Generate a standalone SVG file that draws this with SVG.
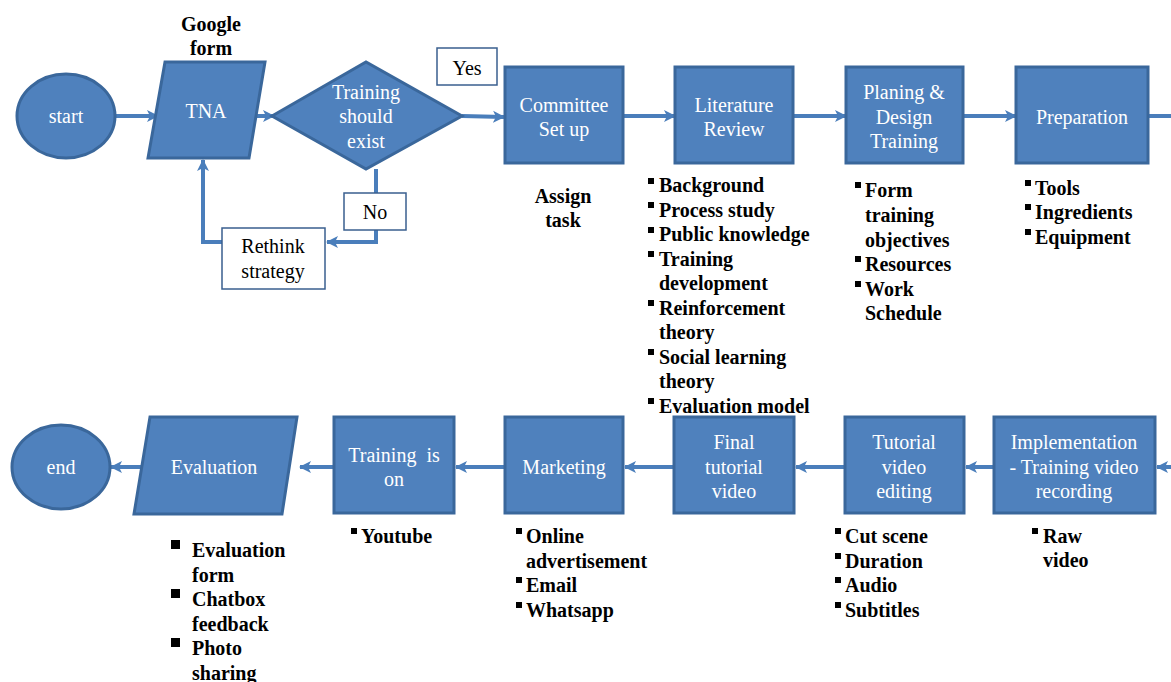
<svg xmlns="http://www.w3.org/2000/svg" width="1171" height="682" viewBox="0 0 1171 682">
<defs>
<marker id="ah" markerUnits="userSpaceOnUse" markerWidth="14" markerHeight="14" refX="11" refY="7" orient="auto">
<path d="M0,1 L12,7 L0,13 L3,7 z" fill="#4a7ebb"/>
</marker>
<style>
.n{fill:#4f81bd;stroke:#3a679b;stroke-width:3}
.lb{fill:#fff;stroke:#3a5f8f;stroke-width:1.5}
.c{fill:none;stroke:#4a7ebb;stroke-width:4}
.a{marker-end:url(#ah)}
.w{font-family:"Liberation Serif","Times New Roman",serif;font-size:20px;fill:#fff;text-anchor:middle}
.k{font-family:"Liberation Serif","Times New Roman",serif;font-size:20px;fill:#000;text-anchor:middle}
.b{font-family:"Liberation Serif","Times New Roman",serif;font-size:20px;font-weight:bold;fill:#000}
.sq{fill:#000}
</style>
</defs>
<rect width="1171" height="682" fill="#fff"/>
<g id="connectors">
<path class="c a" d="M115,116 H158"/>
<path class="c a" d="M255,116 H274"/>
<path class="c a" d="M462,116 L504,117"/>
<path class="c" d="M376,169 V193"/>
<path class="c a" d="M376,229 V242 H327"/>
<path class="c a" d="M230,242 H203 V160"/>
<path class="c a" d="M623,116 H675"/>
<path class="c a" d="M793,116 H846"/>
<path class="c a" d="M963,116 H1016"/>
<path class="c" d="M1148,116 H1171"/>
<path class="c a" d="M1171,467 H1157"/>
<path class="c a" d="M994,467 H966"/>
<path class="c a" d="M845,467 H796"/>
<path class="c a" d="M674,467 H625"/>
<path class="c a" d="M505,467 H456"/>
<path class="c a" d="M350,467 H300"/>
<path class="c a" d="M152,467 H111"/>
</g>
<g id="start"><ellipse class="n" cx="66" cy="116" rx="49" ry="42"/><text class="w" x="66" y="123">start</text></g>
<g id="google-form"><text class="b" x="211" y="31" text-anchor="middle">Google</text><text class="b" x="211" y="55" text-anchor="middle">form</text></g>
<g id="tna"><polygon class="n" points="165,62 265,62 249,158 148,158"/><text class="w" x="206" y="118">TNA</text></g>
<g id="decision"><polygon class="n" points="272,116 366,62 462,116 366,169"/><text class="w" x="366" y="99">Training</text><text class="w" x="366" y="123">should</text><text class="w" x="366" y="148">exist</text></g>
<g id="yes"><rect class="lb" x="437" y="48" width="60" height="37"/><text class="k" x="467" y="75">Yes</text></g>
<g id="no"><rect class="lb" x="344" y="193" width="62" height="37"/><text class="k" x="375" y="219">No</text></g>
<g id="rethink"><rect class="lb" x="222" y="228" width="103" height="61"/><text class="k" x="273" y="253">Rethink</text><text class="k" x="273" y="278">strategy</text></g>
<g id="committee"><rect class="n" x="505" y="67" width="118" height="96"/><text class="w" x="564" y="112">Committee</text><text class="w" x="564" y="136">Set up</text></g>
<g id="assign"><text class="b" x="563" y="203" text-anchor="middle">Assign</text><text class="b" x="563" y="227" text-anchor="middle">task</text></g>
<g id="literature"><rect class="n" x="675" y="67" width="118" height="96"/><text class="w" x="734" y="112">Literature</text><text class="w" x="734" y="136">Review</text></g>
<g id="literature-list">
<rect class="sq" x="648" y="178" width="6" height="6"/><text class="b" x="659" y="192">Background</text>
<rect class="sq" x="648" y="202" width="6" height="6"/><text class="b" x="659" y="216.5">Process study</text>
<rect class="sq" x="648" y="227" width="6" height="6"/><text class="b" x="659" y="241">Public knowledge</text>
<rect class="sq" x="648" y="251" width="6" height="6"/><text class="b" x="659" y="265.5">Training</text>
<text class="b" x="659" y="290">development</text>
<rect class="sq" x="648" y="300" width="6" height="6"/><text class="b" x="659" y="314.5">Reinforcement</text>
<text class="b" x="659" y="339">theory</text>
<rect class="sq" x="648" y="349" width="6" height="6"/><text class="b" x="659" y="363.5">Social learning</text>
<text class="b" x="659" y="388">theory</text>
<rect class="sq" x="648" y="398" width="6" height="6"/><text class="b" x="659" y="412.5">Evaluation model</text>
</g>
<g id="planing"><rect class="n" x="846" y="67" width="117" height="96"/><text class="w" x="904" y="99">Planing &amp;</text><text class="w" x="904" y="124">Design</text><text class="w" x="904" y="148">Training</text></g>
<g id="planing-list">
<rect class="sq" x="855" y="182" width="6" height="6"/><text class="b" x="865" y="197">Form</text>
<text class="b" x="865" y="222">training</text>
<text class="b" x="865" y="247">objectives</text>
<rect class="sq" x="855" y="256" width="6" height="6"/><text class="b" x="865" y="271">Resources</text>
<rect class="sq" x="855" y="281" width="6" height="6"/><text class="b" x="865" y="296">Work</text>
<text class="b" x="865" y="320">Schedule</text>
</g>
<g id="preparation"><rect class="n" x="1016" y="67" width="132" height="96"/><text class="w" x="1082" y="124">Preparation</text></g>
<g id="preparation-list">
<rect class="sq" x="1025" y="180" width="6" height="6"/><text class="b" x="1035" y="195">Tools</text>
<rect class="sq" x="1025" y="204" width="6" height="6"/><text class="b" x="1035" y="219">Ingredients</text>
<rect class="sq" x="1025" y="229" width="6" height="6"/><text class="b" x="1035" y="244">Equipment</text>
</g>
<g id="implementation"><rect class="n" x="994" y="417" width="161" height="96"/><text class="w" x="1074" y="449">Implementation</text><text class="w" x="1074" y="474">- Training video</text><text class="w" x="1074" y="498">recording</text></g>
<g id="implementation-list">
<rect class="sq" x="1032" y="528" width="6" height="6"/><text class="b" x="1043" y="543">Raw</text>
<text class="b" x="1043" y="567">video</text>
</g>
<g id="editing"><rect class="n" x="845" y="417" width="119" height="96"/><text class="w" x="904" y="449">Tutorial</text><text class="w" x="904" y="474">video</text><text class="w" x="904" y="498">editing</text></g>
<g id="editing-list">
<rect class="sq" x="835" y="528" width="6" height="6"/><text class="b" x="845" y="543">Cut scene</text>
<rect class="sq" x="835" y="553" width="6" height="6"/><text class="b" x="845" y="568">Duration</text>
<rect class="sq" x="835" y="577" width="6" height="6"/><text class="b" x="845" y="592">Audio</text>
<rect class="sq" x="835" y="602" width="6" height="6"/><text class="b" x="845" y="617">Subtitles</text>
</g>
<g id="final"><rect class="n" x="674" y="417" width="120" height="96"/><text class="w" x="734" y="449">Final</text><text class="w" x="734" y="474">tutorial</text><text class="w" x="734" y="498">video</text></g>
<g id="marketing"><rect class="n" x="505" y="417" width="118" height="96"/><text class="w" x="564" y="474">Marketing</text></g>
<g id="marketing-list">
<rect class="sq" x="516" y="528" width="6" height="6"/><text class="b" x="526" y="543">Online</text>
<text class="b" x="526" y="568">advertisement</text>
<rect class="sq" x="516" y="577" width="6" height="6"/><text class="b" x="526" y="592">Email</text>
<rect class="sq" x="516" y="602" width="6" height="6"/><text class="b" x="526" y="617">Whatsapp</text>
</g>
<g id="training-on"><rect class="n" x="334" y="417" width="120" height="96"/><text class="w" x="394" y="462" xml:space="preserve">Training  is</text><text class="w" x="394" y="486">on</text></g>
<g id="training-on-list"><rect class="sq" x="351" y="528" width="6" height="6"/><text class="b" x="361" y="543">Youtube</text></g>
<g id="evaluation"><polygon class="n" points="150,417 297,417 282,514 134,514"/><text class="w" x="214" y="474">Evaluation</text></g>
<g id="evaluation-list">
<rect class="sq" x="171" y="540" width="9" height="9"/><text class="b" x="192" y="557">Evaluation</text>
<text class="b" x="192" y="582">form</text>
<rect class="sq" x="171" y="589" width="9" height="9"/><text class="b" x="192" y="606">Chatbox</text>
<text class="b" x="192" y="631">feedback</text>
<rect class="sq" x="171" y="638" width="9" height="9"/><text class="b" x="192" y="655">Photo</text>
<text class="b" x="192" y="680">sharing</text>
</g>
<g id="end"><ellipse class="n" cx="61" cy="467" rx="49" ry="42"/><text class="w" x="61" y="474">end</text></g>
</svg>
